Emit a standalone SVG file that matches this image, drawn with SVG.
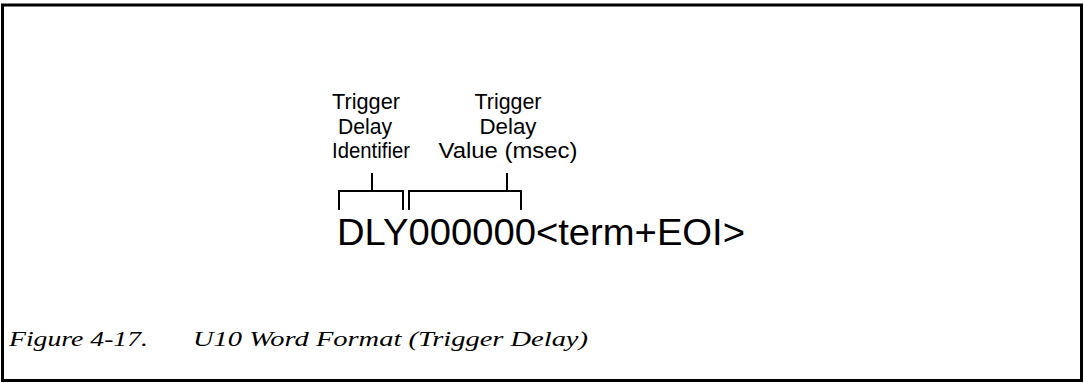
<svg xmlns="http://www.w3.org/2000/svg" width="1084" height="383" viewBox="0 0 1084 383">
<style>
.lbl{font-family:"Liberation Sans",Arial,sans-serif;font-size:22px;fill:#000;text-anchor:middle}
.big{font-family:"Liberation Sans",Arial,sans-serif;font-size:37px;fill:#000}
.cap{font-family:"Liberation Serif","Times New Roman",serif;font-style:italic;font-size:20px;fill:#000}
.br{fill:none;stroke:#000;stroke-width:2}
</style>
<rect x="2.5" y="5" width="1079" height="375.5" fill="#fff" stroke="#000" stroke-width="3"/>
<g id="label-identifier">
<text class="lbl" x="366" y="109" textLength="68" lengthAdjust="spacingAndGlyphs">Trigger</text>
<text class="lbl" x="365" y="134" textLength="54" lengthAdjust="spacingAndGlyphs">Delay</text>
<text class="lbl" x="371" y="158" textLength="78" lengthAdjust="spacingAndGlyphs">Identifier</text>
</g>
<g id="label-value">
<text class="lbl" x="508" y="109" textLength="67" lengthAdjust="spacingAndGlyphs">Trigger</text>
<text class="lbl" x="508" y="134" textLength="57" lengthAdjust="spacingAndGlyphs">Delay</text>
<text class="lbl" x="508" y="158" textLength="139" lengthAdjust="spacingAndGlyphs">Value (msec)</text>
</g>
<g id="connectors">
<path class="br" d="M339,210 V191 H403 V210 M372,191 V173"/>
<path class="br" d="M409,210 V191 H521 V210 M507,191 V173"/>
</g>
<g id="word">
<text class="big" x="337" y="245" textLength="408" lengthAdjust="spacingAndGlyphs">DLY000000&lt;term+EOI&gt;</text>
</g>
<g id="caption">
<text class="cap" x="9" y="346" textLength="139" lengthAdjust="spacingAndGlyphs">Figure 4-17.</text>
<text class="cap" x="193" y="346" textLength="395" lengthAdjust="spacingAndGlyphs">U10 Word Format (Trigger Delay)</text>
</g>
</svg>
